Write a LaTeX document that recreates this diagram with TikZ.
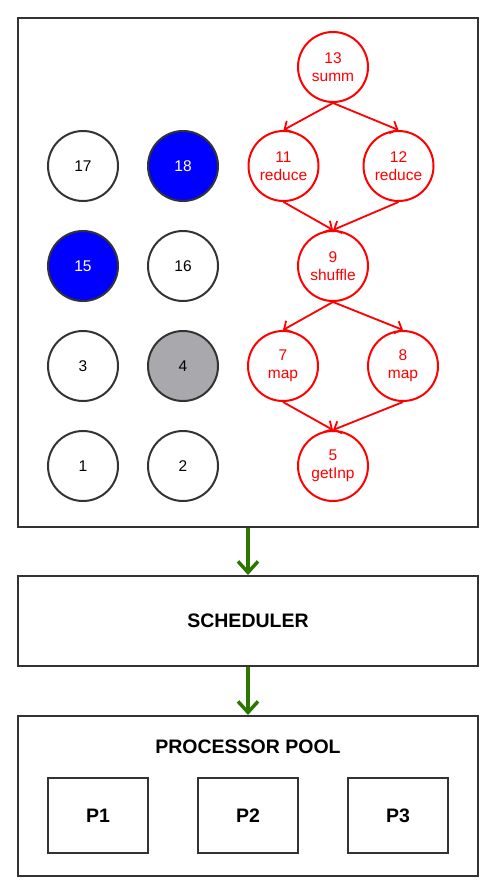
\documentclass[tikz,border=0pt]{standalone}
\usepackage{fontspec}
\setmainfont{Liberation Sans}
\usetikzlibrary{positioning}
\usetikzlibrary{arrows.meta}
\definecolor{myred}{HTML}{FF0000}
\definecolor{mygreen}{HTML}{2D7600}
\definecolor{mygray}{HTML}{A9A8AC}
\definecolor{myline}{HTML}{333333}
\definecolor{myblue}{HTML}{0000FF}
\tikzset{
  task/.style={circle, draw=myline, line width=2pt, minimum size=70pt, inner sep=0pt, font=\fontsize{15.5}{17}\selectfont},
  job/.style={circle, draw=myred, line width=2pt, minimum size=70pt, inner sep=0pt, text=myred, align=center, font=\fontsize{15.5}{18}\selectfont},
  dep/.style={myred, line width=1.8pt, -{Straight Barb[length=6pt,width=13pt,line width=1.8pt]}},
  flow/.style={mygreen, line width=3.5pt, -{Straight Barb[length=11pt,width=20pt,line width=3.5pt]}},
  frame/.style={draw=myline, line width=2pt, minimum width=460pt, font=\bfseries\fontsize{19.5}{22}\selectfont},
  proc/.style={draw=myline, line width=2pt, minimum width=100pt, minimum height=75pt, font=\bfseries\fontsize{19.5}{22}\selectfont}
}
\begin{document}
\begin{tikzpicture}[x=1pt,y=-1pt]
	\useasboundingbox (0,0) rectangle (498,896);
	% task grid
	\node[frame, minimum height=509pt] (tasks) at (248,272.5) {};
	\node[task] (t17) at (83,166) {17};
	\node[task, fill=myblue, text=white] (t18) at (183,166) {18};
	\node[task, fill=myblue, text=white] (t15) at (83,266) {15};
	\node[task] (t16) at (183,266) {16};
	\node[task] (t3) at (83,366) {3};
	\node[task, fill=mygray] (t4) at (183,366) {4};
	\node[task] (t1) at (83,466) {1};
	\node[task] (t2) at (183,466) {2};
	% job graph
	\node[job] (summ) at (333,67) {13\\summ};
	\node[job] (redA) at (283.5,166) {11\\reduce};
	\node[job] (redB) at (398.5,166) {12\\reduce};
	\node[job] (shuf) at (333,266) {9\\shuffle};
	\node[job] (mapA) at (283,366) {7\\map};
	\node[job] (mapB) at (403,366) {8\\map};
	\node[job] (inp) at (333,466) {5\\getInp};
	\draw[dep] (summ.south) -- (redA.north);
	\draw[dep] (summ.south) -- (redB.north);
	\draw[dep] (redA.south) -- (shuf.north);
	\draw[dep] (redB.south) -- (shuf.north);
	\draw[dep] (shuf.south) -- (mapA.north);
	\draw[dep] (shuf.south) -- (mapB.north);
	\draw[dep] (mapA.south) -- (inp.north);
	\draw[dep] (mapB.south) -- (inp.north);
	% scheduler and pool
	\node[frame, minimum height=90pt] (sched) at (248,621) {SCHEDULER};
	\node[frame, minimum height=160pt] (pool) at (248,796) {};
	\node[font=\bfseries\fontsize{19.5}{22}\selectfont] (title) at (248,747) {PROCESSOR POOL};
	\node[proc] (p1) at (98,815.5) {P1};
	\node[proc] (p2) at (248,815.5) {P2};
	\node[proc] (p3) at (398,815.5) {P3};
	\draw[flow] (tasks.south) -- (sched.north);
	\draw[flow] (sched.south) -- (pool.north);
\end{tikzpicture}
\end{document}
